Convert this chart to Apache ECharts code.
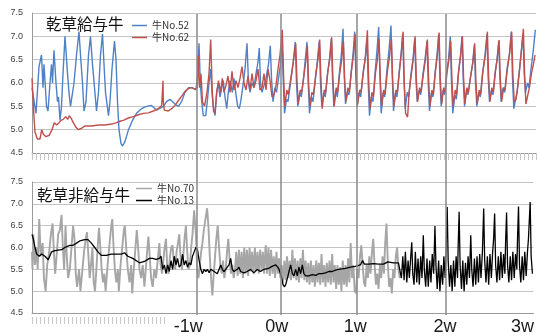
<!DOCTYPE html>
<html>
<head>
<meta charset="utf-8">
<script src="https://cdn.jsdelivr.net/npm/echarts@6/dist/echarts.min.js"></script>
<style>
  html, body { margin: 0; padding: 0; background: #fff; }
  #chart { width: 537px; height: 336px; }
</style>
</head>
<body>
<div id="chart"></div>
<script>
// x = time step along the record, week marks placed where the original draws them
var xMax = 504;
var weekTicks = [157, 246, 325, 415, 493];
var weekLabels = ['-1w', '0w', '1w', '2w', '3w'];
var weekLines = [165, 249, 325, 414];

// 乾草給与牛
var cow52 = [
  [0,5.9],[4,5.35],[7,6.35],[9.5,6.6],[11,5.9],[12,6.4],[14.5,5.5],[16,5.4],[18,6.0],[19.5,6.4],[20.5,6.0],[22,6.7],
  [24,6.0],[25.5,5.6],[26.5,5.7],[28,5.2],[29.5,5.5],[31,6.2],[33,7.0],[35.5,6.2],[37,5.8],[38.5,5.5],[42,6.0],[44.5,6.6],
  [47,7.1],[48.5,6.6],[50.5,6.0],[52,5.4],[54,5.6],[56.5,6.6],[58.5,7.0],[60.5,6.4],[62.5,5.9],[64.5,5.4],[66.5,5.8],
  [68.5,6.6],[70.5,7.05],[72,6.4],[73.5,5.8],[76.5,5.3],[78,5.6],[80,6.3],[82.5,6.9],[84,6.5],[85.5,5.6],[87,5.0],
  [89,4.7],[90.5,4.65],[93,4.75],[96.5,5.0],[100.5,5.2],[104.5,5.35],[109.5,5.45],[114.5,5.5],[119.5,5.52],[124.5,5.42],
  [131.5,5.5],[134.5,5.6],[138,5.65],[143,5.55],[146.5,5.5],[149.5,5.6],[153,5.8],[156.5,5.9],[160,5.9],[164,5.85],
  [165.7,6.2],[167,6.85],[168.3,6.0],[169.7,5.6],[171.3,5.3],[173.7,5.3],[175.3,5.6],[177,6.0],[178.7,6.3],[180,5.8],
  [181.3,5.5],[183,5.3],[184.7,5.8],[186.3,6.0],[188,5.7],[189.7,5.9],[191.3,6.05],[193,5.7],[194.7,5.45],[196.3,5.8],
  [198,6.05],[200.3,5.8],[202,6.1],[204,5.75],[205.7,5.5],[207.3,5.45],[208.7,5.6],[210.7,5.9],[213,6.3],[215,6.85],
  [216.5,6.0],[218,5.8],[220,6.0],[222,5.9],[224,6.2],[226,6.45],[227.3,6.75],[228.5,6.0],[230,5.8],[232,5.95],
  [234,6.1],[236.5,6.4],[238.3,6.8],
  [239.5,6.1],[241,5.6],[243,5.9],[244.5,5.8],[246.5,6.1],[248.5,6.4],[250,6.9],
  [251.2,6.1],[252.5,5.35],[254.5,5.65],[256,5.6],[258.5,6.0],[261,6.4],[263.3,6.88],
  [264.5,6.0],[265.8,5.5],[267.8,5.8],[269.3,5.7],[271.5,6.1],[273.3,6.5],[275,6.88],
  [276.2,6.0],[277.5,5.35],[279.5,5.7],[281,5.6],[283.5,6.1],[285.5,6.5],[287.3,6.9],
  [288.5,6.0],[289.8,5.5],[291.8,5.8],[293.3,5.7],[295.5,6.2],[297.5,6.5],[299.3,6.95],
  [300.5,6.1],[301.8,5.5],[303.8,5.85],[305.3,5.7],[307.3,6.2],[309.3,6.6],[311,7.16],
  [312.2,6.2],[313.5,5.55],[315.5,5.8],[317,5.75],[319,6.2],[321,6.6],[322.7,7.1],
  [323.9,6.1],[325.2,5.5],[327.2,5.8],[328.7,5.7],[331,6.2],[333.2,6.5],[335,6.95],
  [336.2,6.0],[337.5,5.3],[339.5,5.7],[341,5.6],[343,6.2],[345,6.7],[346.7,7.2],
  [347.9,6.2],[349.2,5.35],[351.2,5.8],[352.7,5.7],[355,6.3],[357,6.7],[359,7.23],
  [360.2,6.2],[361.5,5.4],[363.5,5.8],[365,5.7],[367,6.2],[369,6.6],[370.7,7.05],
  [371.9,6.1],[373.2,5.45],[375.2,5.8],[376.7,5.7],[379,6.2],[381,6.5],[382.7,6.95],
  [383.9,6.1],[385.2,5.6],[387.2,5.85],[388.7,5.75],[391,6.2],[393,6.5],[395,6.9],
  [396.2,6.0],[397.5,5.4],[399.5,5.8],[401,5.7],[403,6.2],[405,6.6],[406.7,7.05],
  [407.9,6.1],[409.2,5.5],[411.2,5.85],[412.7,5.75],[414.5,6.2],[416.5,6.5],[418.3,7.0],
  [419.5,6.0],[420.8,5.35],[422.8,5.75],[424.3,5.65],[426.3,6.2],[428.3,6.55],[430,7.0],
  [431.2,6.1],[432.5,5.5],[434.5,5.85],[436,5.75],[438.3,6.1],[440.5,6.4],[442.3,6.8],
  [443.5,6.0],[444.8,5.5],[446.8,5.8],[448.3,5.7],[450.5,6.2],[453,6.6],[455,7.05],
  [456.2,6.1],[457.5,5.6],[459.5,5.85],[461,5.75],[463,6.2],[465,6.5],[466.7,6.9],
  [467.9,6.1],[469.2,5.6],[471.2,5.9],[472.7,5.8],[475,6.3],[477.3,6.6],[479.3,7.1],
  [480.5,6.1],[481.8,5.45],[483.5,5.42],[485,5.8],[487,6.2],[489,6.6],[491,7.05],
  [492.2,6.2],[493.5,5.8],[495.5,6.0],[497,5.9],[499,6.3],[501.3,6.7],[503.3,7.14]
];
var cow62 = [
  [0,6.1],[1.3,5.5],[3,4.95],[5.3,4.8],[6.7,4.76],[8,4.8],[9.7,5.0],[11.3,4.9],[14,4.85],[17.3,4.88],[20,5.0],[22.3,5.15],
  [24.7,5.1],[27,5.15],[29,5.2],[31.3,5.22],[33.7,5.28],[35.7,5.22],[37.3,5.3],[39,5.25],[41.3,5.15],[44,5.05],[46.3,5.0],
  [49.7,5.03],[53,5.08],[54,5.12],[55.3,5.08],[59.7,5.08],[66.3,5.1],[73,5.1],[79.7,5.12],[84.7,5.15],[88,5.18],[91.3,5.2],
  [96.3,5.25],[101.3,5.28],[106.3,5.32],[111.3,5.35],[116.3,5.36],[121.3,5.4],[126.3,5.45],[129.7,5.52],[130.7,5.55],
  [131,6.05],[131.3,5.6],[132.3,5.42],[136.3,5.4],[139.7,5.45],[143,5.52],[146.3,5.62],[149.7,5.72],[153,5.82],
  [156.3,5.88],[159.7,5.9],[163,5.87],[165.3,5.9],
  [166,6.6],[167.5,5.9],[169,6.2],[170.5,5.6],[172.5,5.5],[175,5.8],[177,6.2],[178.7,6.93],[180.3,5.8],[181.5,5.4],
  [183,5.35],[184.7,5.8],[186.5,6.05],[188.5,5.8],[190.3,6.1],[192,5.8],[194,5.95],[196,6.15],[198,5.8],[200,6.25],
  [202,5.85],[204,6.05],[206,5.9],[208,6.1],[210,6.35],[212,6.0],[214,5.85],[216,6.15],[218,5.85],[220,6.2],[222,5.9],
  [224,6.05],[226,6.3],[228,5.85],[230,5.9],[232,6.2],[234,5.85],[236,6.3],[238,6.05],
  [240,5.7],[242,5.75],[244,5.95],[246,6.3],[248,6.6],[250.3,7.14],
  [251.5,6.2],[252.8,5.5],[254.8,5.85],[256.3,5.75],[258.8,6.1],[261.3,6.45],[263.7,6.85],
  [264.9,6.1],[266.2,5.55],[268.2,5.85],[269.7,5.8],[271.9,6.15],[273.7,6.45],[275.4,6.8],
  [276.6,6.0],[277.9,5.5],[279.9,5.8],[281.4,5.75],[283.9,6.2],[285.9,6.5],[287.7,6.93],
  [288.9,6.1],[290.2,5.45],[292.2,5.85],[293.7,5.8],[295.9,6.25],[297.9,6.55],[299.7,6.98],
  [300.9,6.1],[302.2,5.5],[304.2,5.9],[305.7,5.8],[307.7,6.2],[309.7,6.5],[311.4,6.9],
  [312.6,6.1],[313.9,5.6],[315.9,5.9],[317.4,5.8],[319.4,6.25],[321.4,6.6],[323.1,7.05],
  [324.3,6.15],[325.6,5.55],[327.6,5.85],[329.1,5.8],[331.4,6.25],[333.6,6.6],[335.4,7.13],
  [336.6,6.1],[337.9,5.45],[339.9,5.8],[341.4,5.7],[343.4,6.2],[345.4,6.5],[347.1,6.95],
  [348.3,6.1],[349.6,5.5],[351.6,5.85],[353.1,5.75],[355.4,6.25],[357.4,6.55],[359.4,6.95],
  [360.6,6.1],[361.9,5.5],[363.9,5.85],[365.4,5.8],[367.4,6.25],[369.4,6.65],[371.1,7.1],
  [372.3,6.0],[373.6,5.35],[375.6,5.27],[377.1,5.8],[379.4,6.2],[381.4,6.55],[383.1,7.0],
  [384.3,6.1],[385.6,5.6],[387.6,5.9],[389.1,5.8],[391.4,6.2],[393.4,6.5],[395.4,6.93],
  [396.6,6.1],[397.9,5.5],[399.9,5.85],[401.4,5.75],[403.4,6.25],[405.4,6.6],[407.1,7.08],
  [408.3,6.1],[409.6,5.55],[411.6,5.9],[413.1,5.8],[414.9,6.2],[416.9,6.5],[418.7,6.9],
  [419.9,6.1],[421.2,5.5],[423.2,5.85],[424.7,5.75],[426.7,6.25],[428.7,6.6],[430.4,7.0],
  [431.6,6.1],[432.9,5.55],[434.9,5.9],[436.4,5.8],[438.7,6.15],[440.9,6.45],[442.7,6.85],
  [443.9,6.05],[445.2,5.55],[447.2,5.85],[448.7,5.75],[450.9,6.25],[453.4,6.6],[455.4,7.1],
  [456.6,6.15],[457.9,5.6],[459.9,5.9],[461.4,5.8],[463.4,6.25],[465.4,6.55],[467.1,6.92],
  [468.3,6.1],[469.6,5.6],[471.6,5.9],[473.1,5.85],[475.4,6.3],[477.7,6.65],[479.7,7.1],
  [480.9,6.2],[482.2,5.6],[483.9,5.65],[485.4,5.85],[487.4,6.25],[489.4,6.7],[491.4,7.16],
  [492.6,6.2],[493.9,5.55],[495.9,5.75],[497.4,5.9],[499.4,6.2],[501.4,6.4],[503,6.6]
];

// 乾草非給与牛
var cow70 = [
  [0,5.9],[0.5,5.5],[1.3,6.3],[3,5.6],[4.7,6.0],[5.7,5.5],[7.3,6.65],[8.7,5.8],[10.7,6.1],[12,5.3],[13.7,5.0],[15.3,5.6],
  [17.3,5.9],[19,6.3],[20.7,6.55],[22,5.9],[23.3,5.4],[24.7,5.8],[26.3,6.3],[28,6.4],[29.7,6.75],[31,6.0],[32.3,5.5],
  [33.7,6.5],[35,5.8],[36.3,5.3],[38,5.5],[39.7,6.0],[41.3,6.5],[42.7,6.2],[44,5.4],[45.3,5.1],[47.3,5.5],[48.7,5.0],
  [50.7,5.5],[52.3,5.9],[54,6.2],[55.3,6.35],[56.7,5.8],[58,5.3],[59.3,5.6],[60.7,6.0],[62,5.2],[63.3,5.0],[64.7,5.5],
  [66,6.0],[67.3,6.45],[68.7,6.0],[70,5.5],[71.3,5.2],[72.7,5.4],[74,5.0],[76,5.6],[78,6.1],[79.7,6.5],[80.7,6.65],
  [82,6.0],[83.3,5.5],[84.7,5.2],[86.3,5.5],[87.3,5.0],[89,5.6],[90.7,6.0],[92.3,6.4],[93.3,6.5],[94.7,6.0],[96.3,5.5],
  [98,5.2],[99.7,5.6],[100.7,4.95],[102.3,5.5],[104,6.0],[105.3,6.4],[106.7,6.0],[108,5.5],[109.7,5.3],[111.3,5.6],
  [113,5.1],[114.7,5.6],[116,6.0],[117,6.25],[118.3,5.8],[119.7,5.3],[121.3,5.1],[123,5.5],[124.7,5.3],[126.3,5.7],
  [128,6.1],[129.3,5.6],[130.7,5.4],[132,5.7],[133.3,6.0],[134.7,6.2],[136,5.5],[137.3,5.4],[138.7,5.8],[140,6.0],
  [141.3,6.05],[142.7,5.6],[144,5.5],[145.3,5.9],[146.7,6.1],[148,6.3],[149.3,5.8],[150.7,5.5],[152,5.8],[153.3,6.2],
  [154.7,6.5],[156,5.9],[157.3,5.5],[158.7,5.6],[160,6.0],[161.3,6.3],[163,6.85],[164.7,6.3],[166,5.5],[167.3,5.3],
  [168.7,5.6],[170,5.9],[171.3,6.1],[172.7,6.4],[174,6.6],[176,6.9],[177.3,6.5],[178.7,5.8],[180,5.3],[181.3,4.9],
  [182.7,5.4],[184,5.8],[185.3,6.2],[186.7,6.5],[188,6.0],[189.3,5.6],[190.7,5.4],[192,5.7],[193.3,5.3],[194.7,5.5],
  [196,5.9],[197.3,6.2],[198.7,5.7],[200,5.4],[201.3,5.6],[202.7,5.3],[204,5.5],[205.3,5.9],[206.7,5.35],[208,5.95],
  [209.3,5.4],[210.7,5.9],[212,5.3],[213.3,6.0],[214.7,5.4],[216,5.95],[217.3,5.35],[218.7,6.0],[220,5.45],[221.3,5.9],
  [222.7,5.4],[224,6.0],[225.3,5.45],[226.7,5.9],[228,5.4],[229.3,5.95],[230.7,5.5],[232,5.9],[233.3,5.4],[234.7,6.0],
  [235,6.05],[236.3,5.4],[237.7,6.0],[239,5.35],[240.3,5.95],[241.7,5.4],[243,5.8],[244.3,5.3],[245.7,5.9],[247,5.4],
  [248.3,5.75],[249.7,5.3],[251,5.6],[252.3,5.2],[253.7,5.7],[255,5.25],[256.3,5.8],[257.7,5.3],[259,5.7],[260.3,5.25],
  [261.7,5.95],[263,5.3],[264.3,5.75],[265.7,5.25],[267,5.7],[268.3,5.2],[269.7,5.75],[271,5.3],[272.3,5.95],[273.7,5.25],
  [275,5.7],[276.3,5.2],[277.7,5.65],[279,5.15],[280.3,5.7],[281.7,5.2],[283,5.6],[284.3,5.1],[285.7,5.7],[287,5.2],
  [288.3,5.65],[289.7,5.15],[291,5.85],[292.3,5.2],[293.7,5.6],[295,5.1],[296.3,5.65],[297.7,5.2],[299,5.7],[300.3,5.15],
  [301.7,5.85],[303,5.2],[304.3,5.6],[305.7,5.05],[307,5.6],[308.3,5.15],[309.7,5.55],[311,5.0],[312.3,5.7],[313.7,5.15],
  [315,5.6],[316.3,5.1],[317.7,5.75],[319,5.2],[320.3,6.1],[321.7,5.3],[323,5.6],[324.3,5.0],[325.7,4.95],[327,5.5],
  [328.3,5.3],[329.7,5.8],[331,6.05],[332.3,5.6],[333.7,5.2],[335,5.1],[336.3,5.6],[337.7,5.3],[339,5.8],[340.3,5.4],
  [341.7,5.9],[343,6.2],[344.3,5.6],[345.7,5.15],[347,5.4],[348.3,5.05],[349.7,5.6],[351,5.3],[352.3,5.8],[353.7,5.4],
  [355,6.1],[356.3,6.55],[357.7,5.6],[359,5.1],[360.3,5.3],[361.7,4.95],[363,5.5],[364.3,5.3],[365.7,5.8],[367,6.0],
  [368.3,5.5],[369.7,5.3]
];
var cow13 = [
  [0,6.3],[1.3,6.2],[3,6.0],[4.7,5.85],[7.3,5.8],[9.7,5.85],[13,5.8],[16.3,5.72],[19.7,5.9],[23,5.93],[29.7,5.95],
  [33,6.0],[38,6.05],[41.3,6.05],[44.7,6.1],[48,6.15],[53,6.18],[56.3,6.18],[59.7,6.1],[63,6.0],[66.3,5.9],[69.7,5.82],
  [74.7,5.82],[79.7,5.85],[84.7,5.85],[89.7,5.85],[93,5.88],[96.3,5.8],[101.3,5.75],[108,5.65],[113,5.68],[118,5.75],
  [121.3,5.75],[124.7,5.73],[128,5.75],[129.7,5.8],
  [131.3,5.5],[133,5.6],[134.7,5.4],[136.3,5.6],[138,5.45],[139.7,5.7],[141.3,5.5],[143,5.8],[144.7,5.6],[146.3,5.75],
  [148,5.55],[149.7,5.6],[151.3,5.85],[153,5.6],[154.7,5.7],[156.3,5.55],[158,5.65],[159.7,5.6],[161.3,5.8],[163,5.9],
  [164.7,6.0],[166.3,5.95],[168,5.7],[169.7,5.5],[171.3,5.4],[173,5.5],[174.7,5.45],[176.3,5.5],[178,5.42],[179.7,5.5],
  [181.3,5.5],[183,5.45],[184.7,5.48],[186.3,5.4],[188,5.42],[189.7,5.6],[191.3,5.5],[193,5.45],[194.7,5.5],[196.3,5.55],
  [198,5.6],[199.7,5.75],[201.3,5.5],[203,5.45],[204.7,5.45],[206.3,5.5],[208,5.55],[209.7,5.45],[211.3,5.45],[213,5.42],
  [214.7,5.38],[216.3,5.45],[218,5.45],[219.7,5.5],[221.3,5.5],[223,5.42],[224.7,5.42],[226.3,5.5],[228,5.5],[229.7,5.45],
  [231.3,5.45],[233,5.5],[234.7,5.5],[237.7,5.52],[240,5.55],[242.3,5.58],[245,5.6],[247,5.55],[248.3,5.5],[249.7,5.4],
  [251,5.3],[252.3,5.15],[253.7,5.1],[255,5.15],[256.7,5.3],[258.3,5.45],[260,5.6],[261.7,5.4],[263.3,5.35],[265,5.5],
  [266.7,5.35],[268.3,5.55],[270,5.4],[271.7,5.6],[273.3,5.4],[275,5.35],[278.3,5.35],[281.7,5.38],[283.3,5.42],
  [285,5.36],[288.3,5.4],[291.7,5.4],[295,5.42],[298.3,5.45],[301.7,5.45],[305,5.48],[308.3,5.5],[315,5.52],[320,5.55],
  [325,5.57],[330,5.6],[332.3,5.7],[334,5.62],[338.3,5.62],[343.3,5.63],[348.3,5.62],[353.3,5.62],[357.7,5.67],
  [359,5.65],[363.3,5.65],[368.3,5.65],
  [370,5.65],[371.3,5.3],[372.7,5.8],[374,5.25],[375.3,5.9],[376.7,5.2],[378,5.7],[379.3,5.3],[380.7,5.8],[381.7,6.12],
  [382.7,5.4],[384,5.15],[385.3,5.9],[386.7,5.2],[388,5.75],[389.3,5.15],[390.7,5.8],[392,5.3],[393.3,6.28],[394.3,5.5],
  [395.7,5.1],[397,5.75],[398.3,5.1],[399.7,5.7],[401,5.2],[402.3,5.85],[403.7,5.4],[405,6.49],[406,5.6],[407.3,5.05],
  [408.7,5.7],[410,5.0],[411.3,5.6],[412.7,5.15],[414,5.8],[415.3,5.3],[416.3,6.0],[417.3,6.93],[418.3,5.7],[419.7,5.1],
  [421,5.6],[422.3,5.0],[423.7,5.7],[425,5.1],[426.3,5.8],[427.7,5.3],[428.3,6.0],[429.3,6.82],[430.3,5.6],[431.7,5.05],
  [433,5.7],[434.3,5.0],[435.7,5.65],[437,5.15],[438.3,5.8],[439.7,5.3],[441,6.28],[442,5.5],[443.3,5.1],[444.7,5.75],
  [446,5.15],[447.3,5.8],[448.7,5.2],[450,5.85],[451.3,5.3],[452.7,5.9],[454,6.89],[455,5.7],[456.3,5.2],[457.7,5.8],
  [459,5.15],[460.3,5.85],[461.7,5.3],[463,5.9],[464,6.2],[465,6.78],[466,5.6],[467.3,5.2],[468.7,5.8],[470,5.25],
  [471.3,5.9],[472.7,5.3],[474,5.85],[475.3,5.4],[476,6.1],[477,6.8],[478,5.6],[479.3,5.2],[480.7,5.8],[482,5.25],
  [483.3,5.9],[484.7,5.3],[486,5.85],[487.3,5.5],[488,6.2],[489,6.94],[490,5.6],[491.3,5.2],[492.7,5.8],[494,5.25],
  [495.3,5.9],[496.7,5.35],[498,5.9],[499,6.2],[500.7,7.04],[501.7,5.8],[503,5.4]
];

var chart = echarts.init(document.getElementById('chart'), null, { renderer: 'canvas' });

function yAxisFor(gridIndex) {
  return {
    gridIndex: gridIndex, type: 'value', min: 4.5, max: 7.5, interval: 0.5,
    axisLine: { show: true, lineStyle: { color: '#9a9a9a' } },
    axisTick: { show: false },
    axisLabel: {
      fontSize: 9, color: '#404040', margin: 9, fontFamily: 'Liberation Sans',
      formatter: function (v) { return v.toFixed(1); }
    },
    splitLine: { lineStyle: { color: '#c4c4c4', width: 1 } }
  };
}

var legendText = { fontSize: 10, color: '#333', fontFamily: 'Noto Sans CJK JP', lineHeight: 11 };

var option = {
  backgroundColor: '#fff',
  animation: false,
  title: [
    { text: '乾草給与牛', left: 46, top: 16, padding: 0,
      textStyle: { fontFamily: 'Noto Sans CJK JP', fontSize: 15.5, fontWeight: 'normal', color: '#111' } },
    { text: '乾草非給与牛', left: 37, top: 187, padding: 0,
      textStyle: { fontFamily: 'Noto Sans CJK JP', fontSize: 15.5, fontWeight: 'normal', color: '#111' } }
  ],
  legend: [
    { data: ['牛No.52', '牛No.62'], orient: 'vertical', left: 132, top: 20, padding: 0,
      icon: 'rect', itemWidth: 15, itemHeight: 1.5, itemGap: 1, textStyle: legendText },
    { data: ['牛No.70', '牛No.13'], orient: 'vertical', left: 136, top: 183, padding: 0,
      icon: 'rect', itemWidth: 16, itemHeight: 1.5, itemGap: 1, textStyle: legendText }
  ],
  grid: [
    { left: 32, right: 1, top: 13, height: 140 },
    { left: 32, right: 1, top: 182, height: 135 },
    { left: 32, width: 132, top: 182, height: 135 },
    { left: 32, right: 1, top: 14, bottom: 21 }
  ],
  xAxis: [
    { gridIndex: 0, type: 'value', min: 0, max: xMax, interval: 4,
      axisLine: { lineStyle: { color: '#9a9a9a' } },
      axisTick: { show: true, length: 7, lineStyle: { color: '#c6c6c6' } },
      axisLabel: { show: false }, splitLine: { show: false } },
    { gridIndex: 1, type: 'value', min: 0, max: xMax,
      axisLine: { lineStyle: { color: '#9a9a9a' } },
      axisTick: { show: false },
      axisLabel: {
        customValues: weekTicks, fontSize: 18, color: '#1a1a1a', margin: 5,
        fontFamily: 'Liberation Sans', showMinLabel: true, showMaxLabel: true,
        formatter: function (v) { return weekLabels[weekTicks.indexOf(v)]; }
      },
      splitLine: { show: false } },
    { gridIndex: 2, type: 'value', min: 0, max: 132, interval: 4,
      axisLine: { show: false },
      axisTick: { show: true, length: 7, lineStyle: { color: '#c6c6c6' } },
      axisLabel: { show: false }, splitLine: { show: false } },
    { gridIndex: 3, type: 'value', min: 0, max: xMax, show: false }
  ],
  yAxis: [
    yAxisFor(0),
    yAxisFor(1),
    { gridIndex: 2, type: 'value', min: 0, max: 1, show: false },
    { gridIndex: 3, type: 'value', min: 0, max: 1, show: false }
  ],
  series: [
    { name: 'weeks', type: 'line', xAxisIndex: 3, yAxisIndex: 3, data: [[0, 0], [1, 0]],
      symbol: 'none', lineStyle: { opacity: 0 }, silent: true,
      markLine: {
        symbol: 'none', silent: true, label: { show: false },
        lineStyle: { color: '#8a8a8a', width: 1.5, type: 'solid' },
        data: weekLines.map(function (w) { return { xAxis: w }; })
      } },
    { name: '牛No.52', type: 'line', xAxisIndex: 0, yAxisIndex: 0, data: cow52,
      symbol: 'none', lineStyle: { color: '#4f81c7', width: 1.4 }, itemStyle: { color: '#4f81c7' } },
    { name: '牛No.62', type: 'line', xAxisIndex: 0, yAxisIndex: 0, data: cow62,
      symbol: 'none', lineStyle: { color: '#c0504d', width: 1.4 }, itemStyle: { color: '#c0504d' } },
    { name: '牛No.70', type: 'line', xAxisIndex: 1, yAxisIndex: 1, data: cow70,
      symbol: 'none', lineStyle: { color: '#a6a6a6', width: 1.9 }, itemStyle: { color: '#a6a6a6' } },
    { name: '牛No.13', type: 'line', xAxisIndex: 1, yAxisIndex: 1, data: cow13,
      symbol: 'none', lineStyle: { color: '#000000', width: 1.3 }, itemStyle: { color: '#000000' } }
  ]
};

chart.setOption(option);
</script>
</body>
</html>
